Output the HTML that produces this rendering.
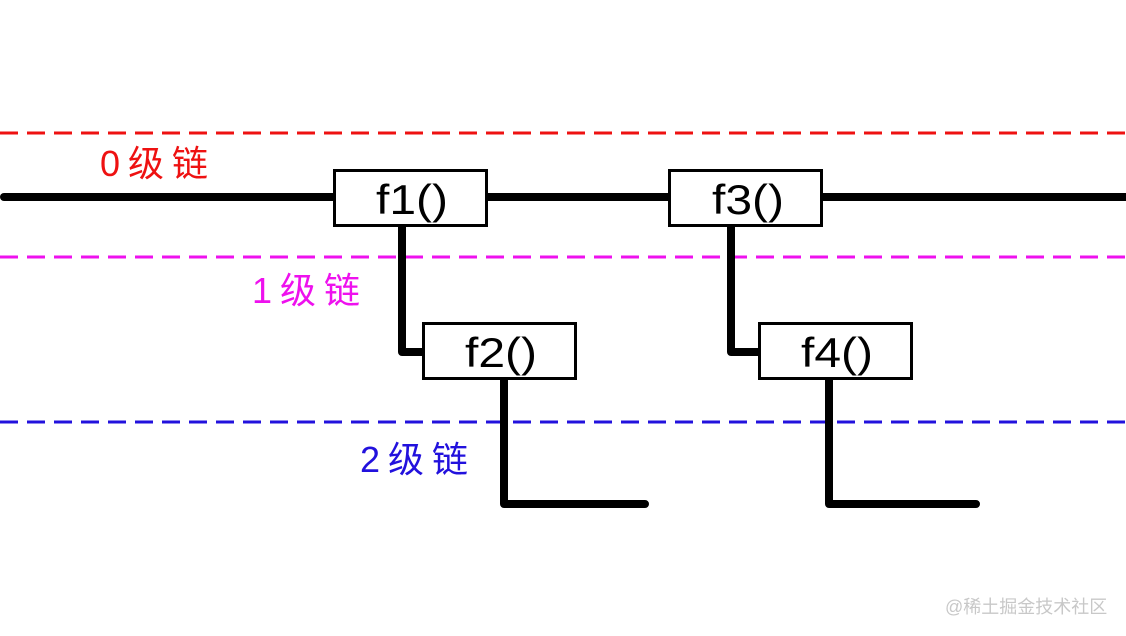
<!DOCTYPE html>
<html><head><meta charset="utf-8"><style>
html,body{margin:0;padding:0;background:#fff;width:1126px;height:636px;overflow:hidden}
svg{display:block}
</style></head><body>
<svg width="1126" height="636" viewBox="0 0 1126 636" xmlns="http://www.w3.org/2000/svg">
<g stroke-width="3" stroke-dasharray="18,9" fill="none">
<line x1="0" y1="133" x2="1126" y2="133" stroke="#ee1111"/>
<line x1="0" y1="257" x2="1126" y2="257" stroke="#ee11ee"/>
<line x1="0" y1="422" x2="1126" y2="422" stroke="#2211dd"/>
</g>
<g stroke="#000" stroke-width="8" fill="none" stroke-linecap="round" stroke-linejoin="round">
<line x1="4" y1="197" x2="1126" y2="197"/>
<polyline points="402,226 402,352 422,352"/>
<polyline points="504,379 504,504 645,504"/>
<polyline points="731,226 731,352 758,352"/>
<polyline points="829,379 829,504 976,504"/>
</g>
<g fill="#fff" stroke="#000" stroke-width="3">
<rect x="334.5" y="170.5" width="152" height="55"/>
<rect x="669.5" y="170.5" width="152" height="55"/>
<rect x="423.5" y="323.5" width="152" height="55"/>
<rect x="759.5" y="323.5" width="152" height="55"/>
</g>
<g font-family="Liberation Sans, sans-serif" font-size="42" fill="#000">
<text x="376" y="214" textLength="72" lengthAdjust="spacingAndGlyphs">f1()</text>
<text x="712" y="214" textLength="72" lengthAdjust="spacingAndGlyphs">f3()</text>
<text x="465" y="367" textLength="72" lengthAdjust="spacingAndGlyphs">f2()</text>
<text x="801" y="367" textLength="72" lengthAdjust="spacingAndGlyphs">f4()</text>
</g>
<g font-family="Liberation Sans, 'Noto Sans CJK SC', sans-serif" font-size="36" letter-spacing="8">
<text x="100" y="176" fill="#ee1111">0级链</text>
<text x="252" y="303" fill="#ee11ee">1级链</text>
<text x="360" y="472" fill="#2211dd">2级链</text>
</g>
<text x="945" y="613" font-family="Liberation Sans, 'Noto Sans CJK SC', sans-serif" font-size="18" fill="#c8c8c8">@稀土掘金技术社区</text>
</svg>
</body></html>
